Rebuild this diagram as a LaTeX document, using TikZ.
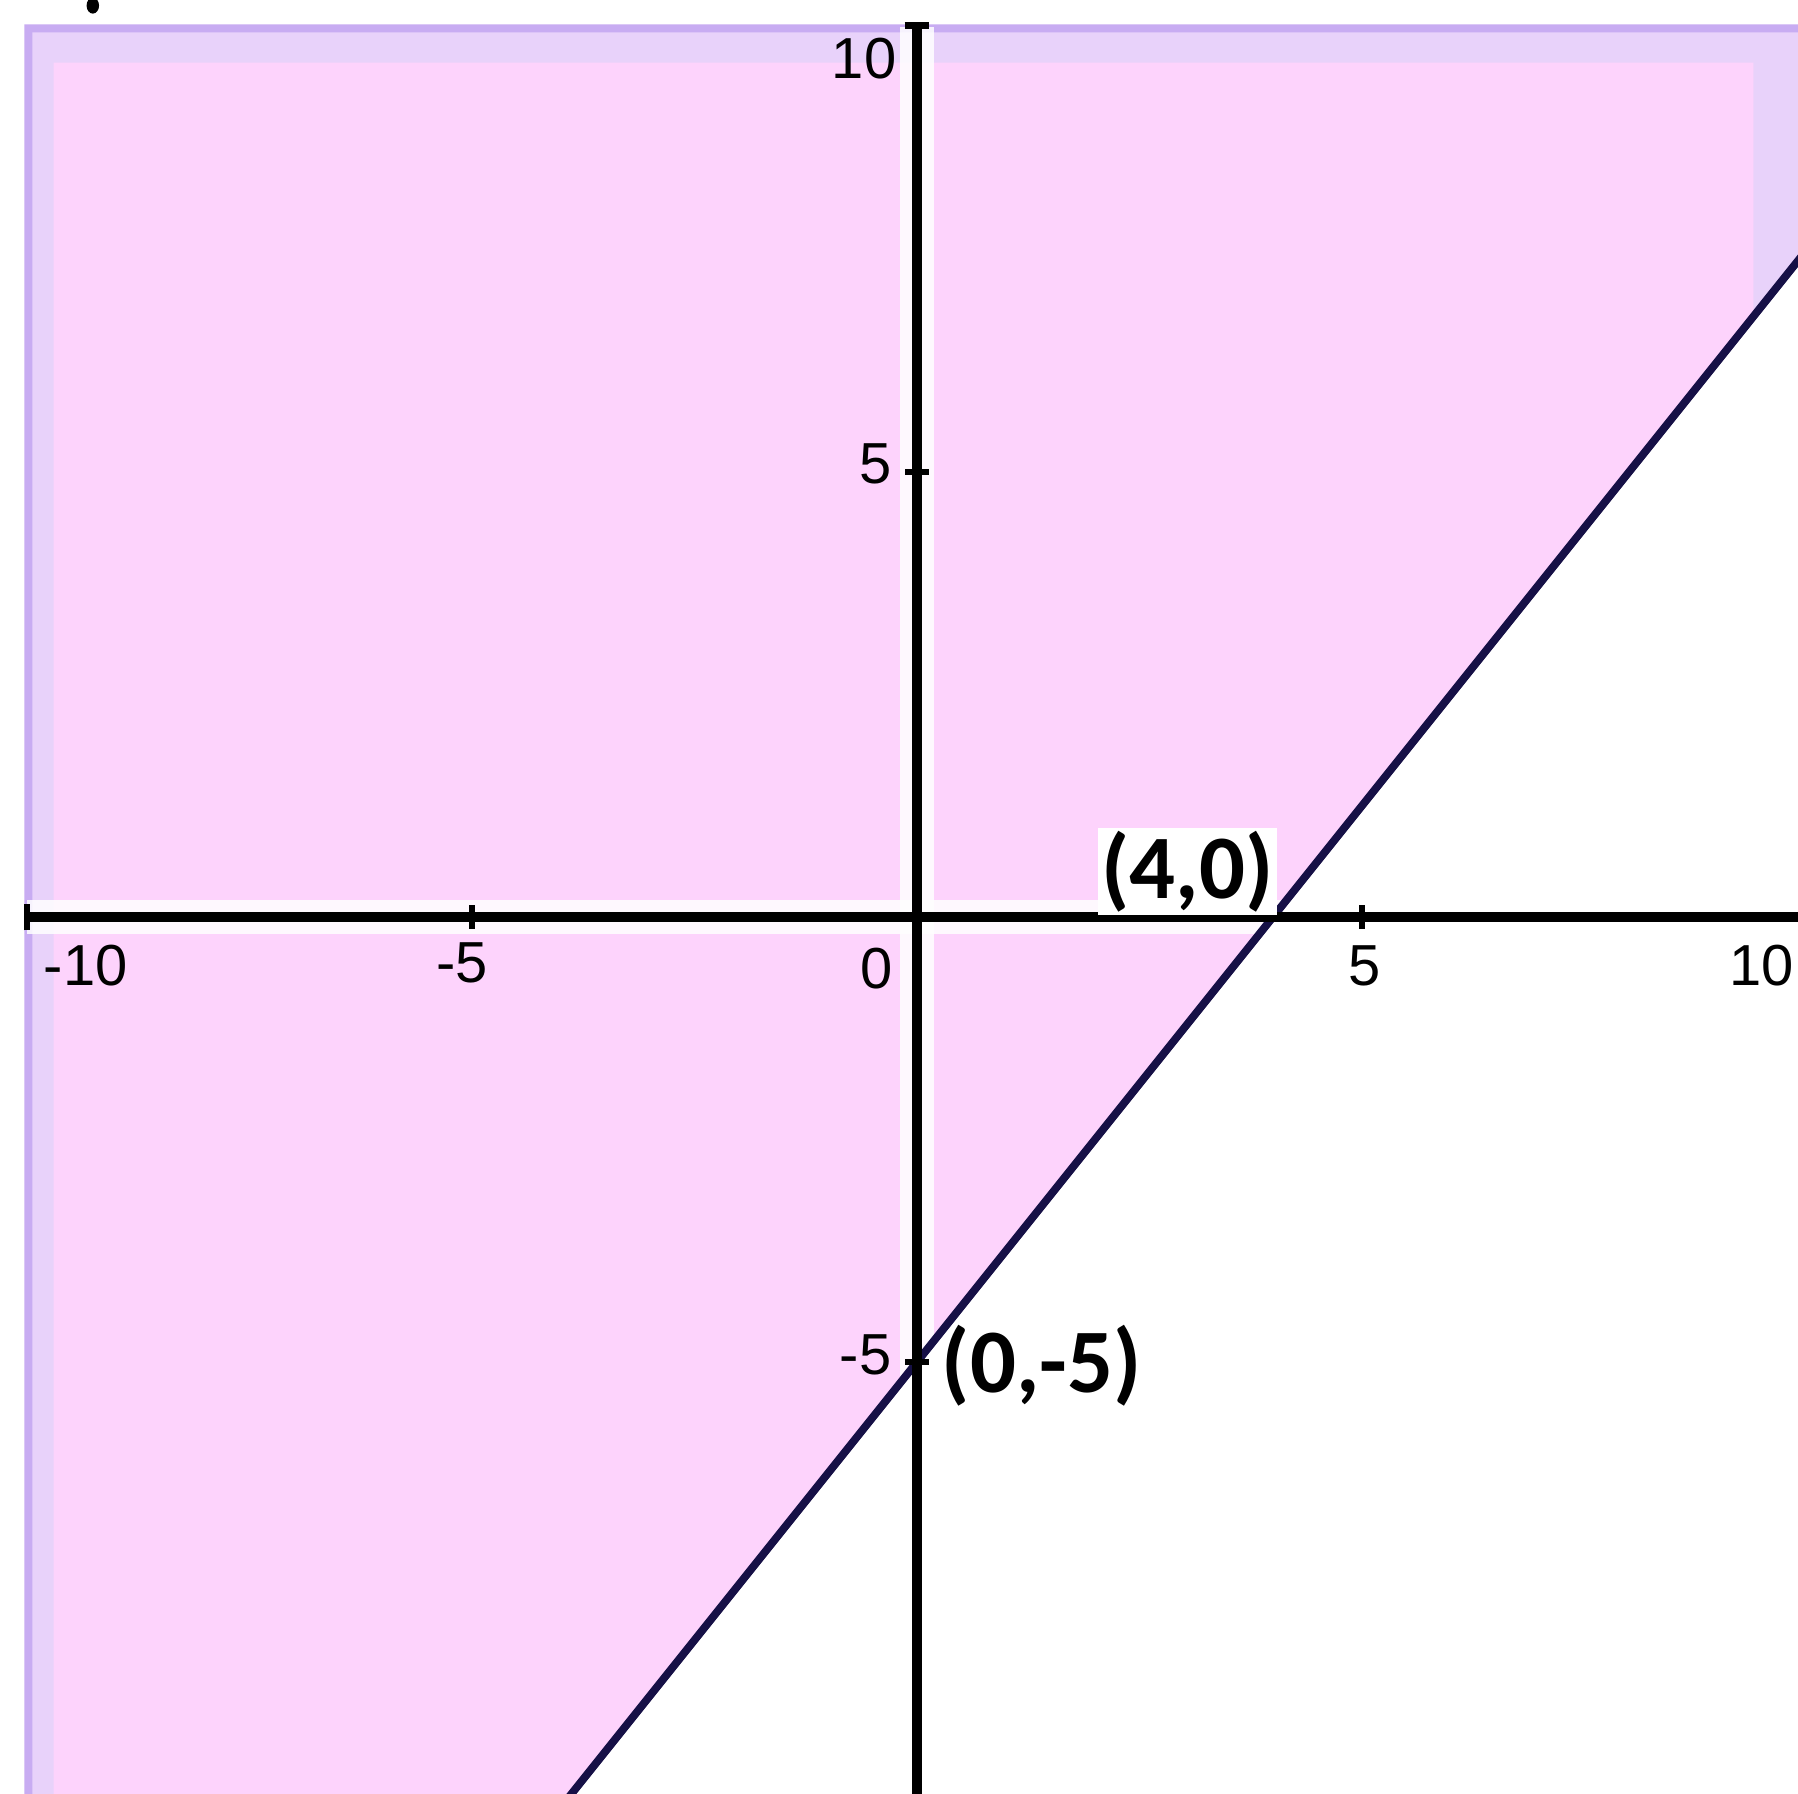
\documentclass[tikz,border=0pt]{standalone}
\usepackage{fontspec}
\setmainfont{Liberation Sans}
\newfontfamily\labfont{Carlito}
\definecolor{regpink}{RGB}{253,211,252}
\definecolor{lavdark}{RGB}{200,172,242}
\definecolor{lavlight}{RGB}{232,210,250}
\definecolor{linenavy}{RGB}{22,16,70}
\tikzset{
  ticklab/.style={inner sep=0pt, font=\fontsize{18.5}{20}\selectfont, text=black},
  ptlab/.style={inner sep=1pt, font=\labfont\bfseries\fontsize{29}{32}\selectfont, text=black},
  axisline/.style={line width=3pt, black},
  halo/.style={line width=11pt, white, opacity=0.85},
  tickmark/.style={line width=2.2pt, black},
  boundary/.style={line width=2.5pt, linenavy}
}
\begin{document}
\begin{tikzpicture}[x=1cm,y=1cm]
\useasboundingbox (-10.303,-9.843) rectangle (9.899,10.303);
\clip (-10.303,-9.843) rectangle (9.899,10.303);
\fill[white] (-10.303,-9.843) rectangle (9.899,10.303);
% shaded region with lavender border bands
\fill[lavdark] (-10.03,10.03) -- (10.5,10.03) -- (10.5,8.125) -- (-4.4,-10.5) -- (-10.03,-10.5) -- cycle;
\fill[lavlight] (-9.94,9.94) -- (10.5,9.94) -- (10.5,8.125) -- (-4.4,-10.5) -- (-9.94,-10.5) -- cycle;
\fill[regpink] (-9.7,9.6) -- (9.4,9.6) -- (9.4,6.75) -- (10.5,8.125) -- (-4.4,-10.5) -- (-9.7,-10.5) -- cycle;
\fill[lavlight] (9.4,9.6) -- (9.9,9.6) -- (9.9,7.375) -- (9.4,6.75) -- cycle;
% white halos round axes
\draw[halo] (-10,0) -- (10.5,0);
\draw[halo] (0,10) -- (0,-10.5);
% boundary line
\coordinate (ltop) at (10.5,8.125);
\coordinate (lbot) at (-4.4,-10.5);
\draw[boundary] (ltop) -- (lbot);
% axes
\coordinate (xl) at (-10,0);
\coordinate (xr) at (10.5,0);
\coordinate (yt) at (0,10.02);
\coordinate (yb) at (0,-10.5);
\draw[axisline] (xl) -- (xr);
\draw[axisline] (yt) -- (yb);
% end caps and ticks
\draw[tickmark] (-10,-0.15) -- (-10,0.15);
\draw[tickmark] (-0.14,10.02) -- (0.14,10.02);
\draw[tickmark] (-5,-0.13) -- (-5,0.13);
\draw[tickmark] (5,-0.13) -- (5,0.13);
\draw[tickmark] (-0.13,5) -- (0.13,5);
\draw[tickmark] (-0.13,-5) -- (0.13,-5);
% tick labels
\node[ticklab, anchor=east] (y10) at (-0.225,9.64) {10};
\node[ticklab, anchor=east] (y5) at (-0.28,5.09) {5};
\node[ticklab, anchor=east] (ym5) at (-0.28,-4.92) {-5};
\node[ticklab] (xm10) at (-9.34,-0.55) {-10};
\node[ticklab] (xm5) at (-5.11,-0.51) {-5};
\node[ticklab] (x0) at (-0.45,-0.58) {0};
\node[ticklab] (x5) at (5.03,-0.55) {5};
\node[ticklab] (x10) at (9.49,-0.55) {10};
% point labels
\node[ptlab, fill=white] (p40) at (3.04,0.51) {(4,0)};
\node[ptlab] (p05) at (1.4,-5.04) {(0,-5)};
% fragment at top-left
\fill[black] (-9.26,10.24) ellipse (0.07 and 0.09);
\end{tikzpicture}
\end{document}
